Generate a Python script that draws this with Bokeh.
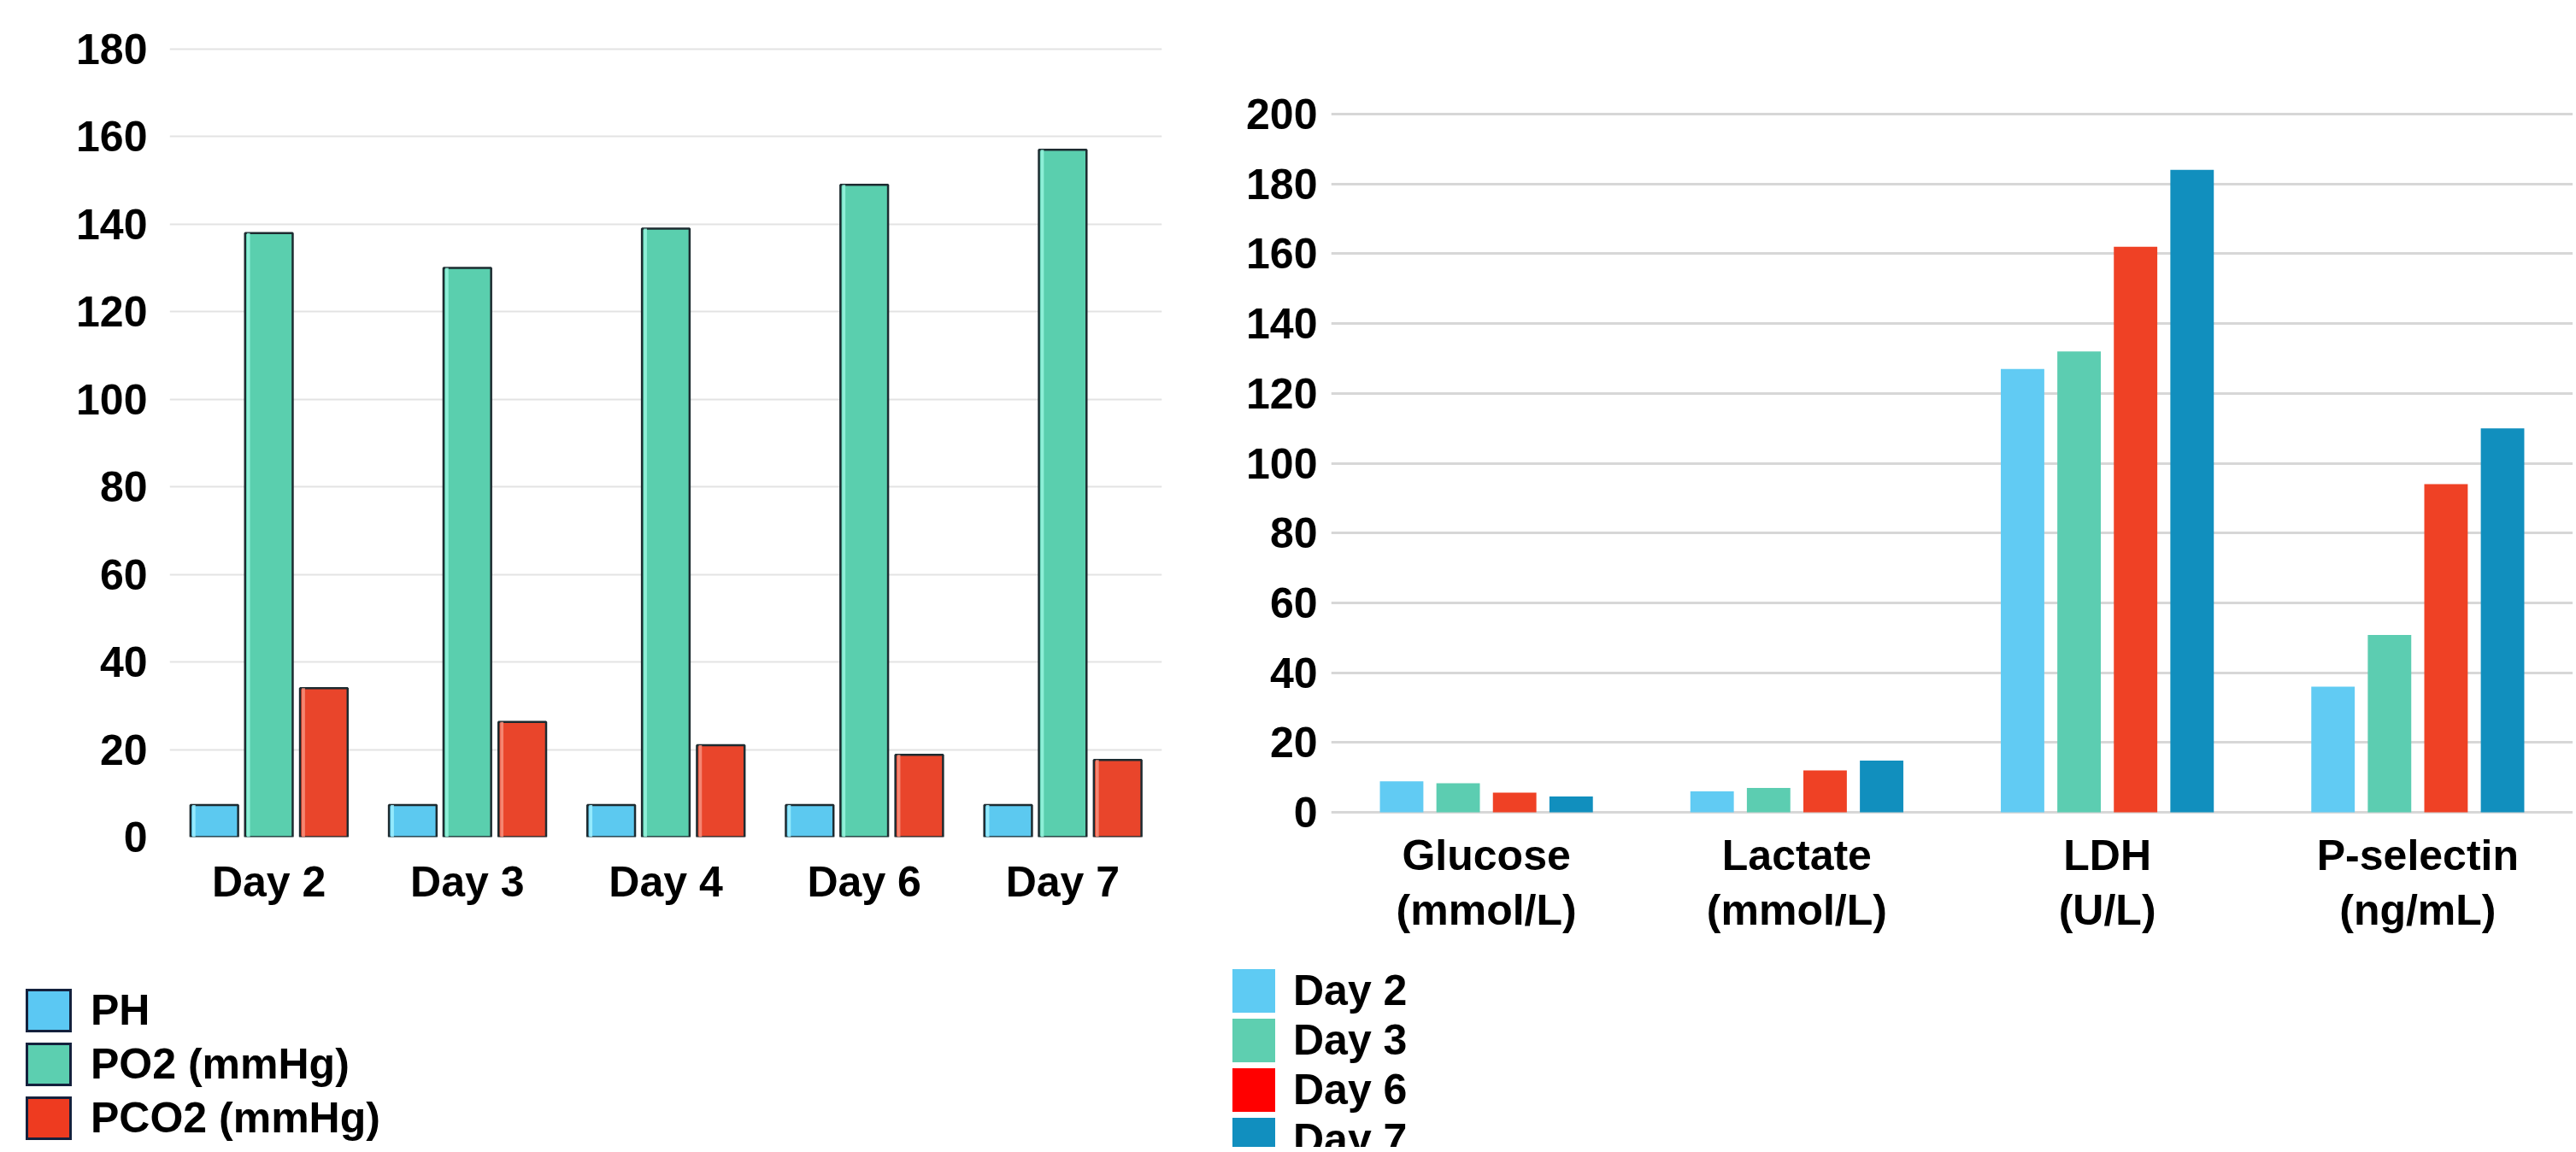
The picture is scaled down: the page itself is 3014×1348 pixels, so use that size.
from bokeh.plotting import figure
from bokeh.models import FactorRange, Range1d, FixedTicker, Div
from bokeh.transform import dodge
from bokeh.layouts import row, column
from bokeh.embed import file_html
from bokeh.resources import INLINE

# ---------------- data: left chart ----------------
days_left = ["Day 2", "Day 3", "Day 4", "Day 6", "Day 7"]
ph_vals = [7.3, 7.3, 7.3, 7.3, 7.3]
po2_vals = [138, 130, 139, 149, 157]
pco2_vals = [34, 26.3, 21, 18.8, 17.6]
left_labels = ["PH", "PO2 (mmHg)", "PCO2 (mmHg)"]
left_ticks = [0, 20, 40, 60, 80, 100, 120, 140, 160, 180]

# ---------------- data: right chart ----------------
markers = ["Glucose\n(mmol/L)", "Lactate\n(mmol/L)", "LDH\n(U/L)", "P-selectin\n(ng/mL)"]
day2_vals = [8.9, 6.0, 127, 36]
day3_vals = [8.3, 7.0, 132, 50.8]
day6_vals = [5.6, 12.0, 162, 94]
day7_vals = [4.5, 14.8, 184, 110]
right_labels = ["Day 2", "Day 3", "Day 6", "Day 7"]
right_ticks = [0, 20, 40, 60, 80, 100, 120, 140, 160, 180, 200]

FONT = "Liberation Sans"
FS = "50px"
MAIN_H = 1120
LEG_H = 222
W1 = 1400
W2 = 1610
FRAME_TOP = 55
FRAME_BOTTOM = 979

def style_axes(p):
    for ax in (p.xaxis[0], p.yaxis[0]):
        ax.axis_line_color = None
        ax.major_tick_line_color = None
        ax.minor_tick_line_color = None
        ax.major_tick_out = 0
        ax.major_tick_in = 0
        ax.major_label_text_font = FONT
        ax.major_label_text_font_style = "bold"
        ax.major_label_text_font_size = FS
        ax.major_label_text_color = "black"
    p.xgrid.grid_line_color = None
    p.outline_line_color = None
    p.background_fill_color = "white"
    p.border_fill_color = "white"

def legend_div(width, labels, colors, pad_left, pad_top, sw, sh, gap, standoff, border):
    rows = []
    for lab, c in zip(labels, colors):
        b = f"border:{border};" if border else ""
        rows.append(
            f'<div style="display:flex;align-items:center;height:{sh}px;margin:0 0 {gap}px 0;">'
            f'<span style="display:inline-block;box-sizing:border-box;width:{sw}px;height:{sh}px;'
            f'background:{c};{b}margin-right:{standoff}px;"></span>'
            f'<span style="font-family:\'{FONT}\';font-weight:bold;font-size:{FS};color:black;'
            f'line-height:{sh}px;white-space:nowrap;">{lab}</span></div>')
    html = (f'<div style="padding:{pad_top}px 0 0 {pad_left}px;margin:0;">' + "".join(rows) + '</div>')
    return Div(text=html, width=width, height=LEG_H, margin=0,
               styles={"overflow": "hidden", "background-color": "white"})

# ================= left chart =================
px1 = (FRAME_BOTTOM - 57) / 180.0
p1 = figure(x_range=FactorRange(factors=days_left),
            y_range=Range1d(0, 180 + (57 - FRAME_TOP) / px1),
            width=W1, height=MAIN_H, output_backend="svg", toolbar_location=None,
            min_border_left=198, min_border_right=41, min_border_top=FRAME_TOP,
            min_border_bottom=MAIN_H - FRAME_BOTTOM)
style_axes(p1)
p1.yaxis.ticker = FixedTicker(ticks=left_ticks)
p1.yaxis.major_label_standoff = 26
p1.xaxis.major_label_standoff = 24
p1.ygrid.grid_line_color = "#e3e3e3"
p1.ygrid.grid_line_width = 2

src1 = dict(day=days_left, ph=ph_vals, po2=po2_vals, pco2=pco2_vals)
left_specs = [
    ("ph", -0.275, "#5cc9f0", "#9ef0ff"),
    ("po2", 0.0, "#5acfae", "#98f5de"),
    ("pco2", 0.277, "#e9452b", "#f7907e"),
]
for col, off, fill, hi in left_specs:
    p1.vbar(x=dodge("day", off, range=p1.x_range), top=col, width=0.24,
            source=src1, fill_color=fill, line_color="#1d2b30", line_width=2.5)
    # bevel highlight on the left inner edge
    p1.vbar(x=dodge("day", off - 0.103, range=p1.x_range), top=col, width=0.016,
            source=src1, fill_color=hi, fill_alpha=0.85, line_color=None)

leg1 = legend_div(W1, left_labels, ["#5bc8f3", "#5ccfb0", "#ee3b20"],
                  30, 1157 - MAIN_H, 54, 51, 12, 22, "3px solid #14213d")

# ================= right chart =================
# frames of both charts share top/bottom; this y range puts 0 and 200 where the reference has them
px2 = (950 - 133) / 200.0
p2 = figure(x_range=FactorRange(factors=markers),
            y_range=Range1d(-(FRAME_BOTTOM - 950) / px2, 200 + (133 - FRAME_TOP) / px2),
            width=W2, height=MAIN_H, output_backend="svg", toolbar_location=None,
            min_border_left=157, min_border_right=0, min_border_top=FRAME_TOP,
            min_border_bottom=MAIN_H - FRAME_BOTTOM)
style_axes(p2)
p2.yaxis.ticker = FixedTicker(ticks=right_ticks)
p2.yaxis.major_label_standoff = 16
p2.xaxis.major_label_standoff = -7
p2.xaxis.major_label_text_line_height = 1.16
p2.ygrid.grid_line_color = "#d7d7d7"
p2.ygrid.grid_line_width = 3

src2 = dict(m=markers, d2=day2_vals, d3=day3_vals, d6=day6_vals, d7=day7_vals)
right_specs = [
    ("d2", -0.273, "#61cbf3"),
    ("d3", -0.091, "#5ccdb1"),
    ("d6", 0.091, "#ef4125"),
    ("d7", 0.273, "#118fbe"),
]
for col, off, fill in right_specs:
    p2.vbar(x=dodge("m", off, range=p2.x_range), top=col, width=0.14,
            source=src2, fill_color=fill, line_color=None)

leg2 = legend_div(W2, right_labels, ["#5ecbf3", "#5ecfb0", "#ff0000", "#118fbf"],
                  42, 1134 - MAIN_H, 50, 51, 7, 21, None)

layout = row(column(p1, leg1), column(p2, leg2))
open("out.html", "w").write(file_html(layout, INLINE))
